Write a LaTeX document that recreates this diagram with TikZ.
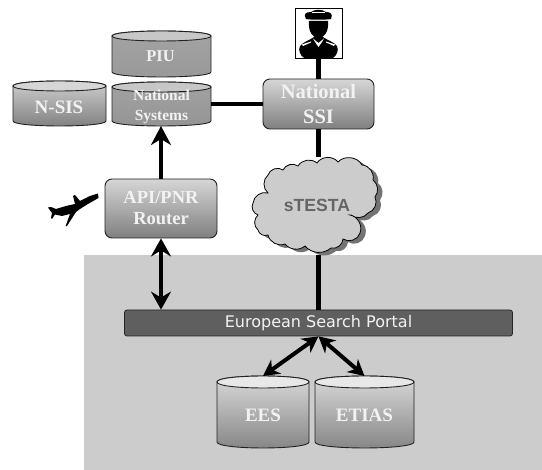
\documentclass[tikz,border=0pt]{standalone}
\usepackage{fontspec}
\setmainfont{Liberation Serif}
\newfontfamily\portalfont{DejaVu Sans}
\newfontfamily\cloudfont{Liberation Sans}
\usetikzlibrary{arrows.meta}
\definecolor{bggray}{HTML}{CCCCCC}
\definecolor{barGray}{HTML}{5F5F5F}
\definecolor{edgeGray}{HTML}{222222}
\definecolor{txtWhite}{HTML}{F2F2F2}
\tikzset{
  conn/.style={line width=4.4pt,black},
  bigtip/.style={-{Stealth[length=19pt,width=20pt,inset=6pt]},line width=4.2pt},
  dbltip/.style={{Stealth[length=18pt,width=20pt,inset=6pt]}-{Stealth[length=18pt,width=20pt,inset=6pt]},line width=3.6pt},
  smalltip/.style={{Stealth[length=16pt,width=17pt,inset=5pt]}-{Stealth[length=16pt,width=17pt,inset=5pt]},line width=4pt},
  boxnode/.style={draw=edgeGray,line width=.9pt,rounded corners=7pt,top color=black!16,bottom color=black!50,inner sep=0pt,align=center,text=txtWhite},
  cyledge/.style={draw=edgeGray,line width=.9pt},
  cyltext/.style={inner sep=0pt,align=center,text=txtWhite,font=\fontsize{19}{22}\selectfont\bfseries},
  anchorbox/.style={inner sep=0pt,outer sep=0pt},
  cloudline/.style={draw=black,line width=.8pt,fill=bggray},
}
% name, x1, ytop, x2, ybot, e, top colour, bottom colour, lid colour
\newcommand{\cylbody}[9]{%
  \pgfmathsetmacro{\cxm}{(#2+#4)/2}\pgfmathsetmacro{\cym}{(#3+#5)/2}%
  \pgfmathsetmacro{\cw}{#4-#2}\pgfmathsetmacro{\ch}{#5-#3}%
  \pgfmathsetmacro{\ctop}{#3+#6}\pgfmathsetmacro{\cbot}{#5-#6}%
  \pgfmathsetmacro{\cbc}{#5-#6+1.33*#6}\pgfmathsetmacro{\ctc}{#3+#6-1.33*#6}\pgfmathsetmacro{\cuc}{#3+#6+1.33*#6}%
  \path[cyledge,top color=#7,bottom color=#8] (#2,\ctop) -- (#2,\cbot) .. controls (#2,\cbc) and (#4,\cbc) .. (#4,\cbot) -- (#4,\ctop) .. controls (#4,\ctc) and (#2,\ctc) .. (#2,\ctop) -- cycle;
  \path[cyledge,fill=#9] (#2,\ctop) .. controls (#2,\ctc) and (#4,\ctc) .. (#4,\ctop) .. controls (#4,\cuc) and (#2,\cuc) .. (#2,\ctop) -- cycle;
  \node[anchorbox,minimum width=\cw pt,minimum height=\ch pt] (#1) at (\cxm,\cym) {};
}
\begin{document}
\begin{tikzpicture}[x=1pt,y=-1pt]
\useasboundingbox (0,0) rectangle (542,470);
\fill[white] (0,0) rectangle (542,470);
\fill[bggray] (84,255) rectangle (542,470);

% databases
\cylbody{piu}{112}{31}{211}{77}{5}{black!36}{black!40}{black!22}
\cylbody{nsis}{13}{81}{106}{126}{5}{black!18}{black!50}{black!16}
\cylbody{natsys}{112}{82}{211}{126}{5}{black!36}{black!42}{black!22}
\cylbody{ees}{217}{376}{309}{448}{6}{black!14}{black!48}{black!9}
\cylbody{etias}{315}{376}{414}{448}{6}{black!14}{black!48}{black!9}
\node[cyltext,font=\fontsize{16.5}{20}\selectfont\bfseries] (piut) at (160.5,56) {PIU};
\node[cyltext] (nsist) at (59,107) {N-SIS};
\node[cyltext,font=\fontsize{15.5}{20}\selectfont\bfseries] (natsyst) at (161.5,106.5) {National\\Systems};
\node[cyltext] (eest) at (263,415) {EES};
\node[cyltext] (etiast) at (364.5,415) {ETIAS};

% rounded boxes
\node[boxnode,minimum width=112pt,minimum height=59pt,font=\fontsize{18.5}{21}\selectfont\bfseries] (api) at (161,208.5) {API/PNR\\Router};
\node[boxnode,minimum width=111pt,minimum height=50pt,font=\fontsize{20.5}{25}\selectfont\bfseries] (ssi) at (318.5,104) {National\\SSI};

% portal
\node[draw=black!85,line width=.8pt,fill=barGray,rounded corners=2.5pt,minimum width=388pt,minimum height=26pt,inner sep=0pt,text=txtWhite,font=\portalfont\fontsize{16}{18}\selectfont] (portal) at (318.5,323) {European Search Portal};

% officer
\node[draw=black,line width=.8pt,fill=white,minimum width=47pt,minimum height=50pt,inner sep=0pt] (officer) at (318.5,33) {};
\fill[black] (306,19) .. controls (303,14) and (306,12) .. (311,12) .. controls (315,9) and (322,9) .. (326,12) .. controls (331,12) and (333,14) .. (331,19) .. controls (326,20) and (311,20) .. (306,19) -- cycle;
\fill[white] (312,12.5) rectangle (325,13.3);
\fill[black] (309,21) .. controls (308,32) and (313,38) .. (318.5,38) .. controls (324,38) and (329,32) .. (328,21) -- cycle;
\fill[black] (300,46) .. controls (303,42) and (310,40) .. (314,37) -- (323,37) .. controls (327,40) and (334,42) .. (337,46) .. controls (339,50) and (337,55) .. (333,58) -- (304,58) .. controls (300,55) and (298,50) .. (300,46) -- cycle;
\fill[white] (313,38.5) -- (318.5,43) -- (324,38.5) -- (322,42) -- (318.5,47) -- (315,42) -- cycle;
\fill[white] (302,44.5) -- (311,41.5) -- (311,42.5) -- (303,46) -- cycle;
\fill[white] (335,44.5) -- (326,41.5) -- (326,42.5) -- (334,46) -- cycle;

% plane
\fill[black] (98,193.5) -- (98.5,198) -- (88,204) -- (80,209) -- (76,212) -- (67,226) -- (65.5,226.5) -- (70,214) -- (62,216) -- (55,214.5) -- (52,219) -- (51,218) -- (52,213) -- (48,207.5) -- (51,207) -- (56,209) -- (66,206) -- (75,204) -- (73,196) -- (75,195) -- (80,201) -- (90,196) -- cycle;

% cloud
\newcommand{\cloudpath}{(268,175) to[bend left=55] (283,170) to[bend left=50] (298,166) to[bend left=50] (317,163) to[bend left=55] (338,162) to[bend left=55] (362,165) to[bend left=50] (373,180) to[bend left=45] (375,197) to[bend left=50] (368,213) to[bend left=45] (351,215) to[bend left=-45] (350,215) to[bend left=50] (360,233) to[bend left=55] (343,239) to[bend left=50] (331,248) to[bend left=45] (305,246) to[bend left=45] (285,244) to[bend left=50] (268,235) to[bend left=50] (258,230) to[bend left=50] (258,215) to[bend left=50] (253,203) to[bend left=50] (268,193) to[bend left=50] cycle}
\fill[black!55,xshift=5pt,yshift=-3pt] \cloudpath;
\path[cloudline] \cloudpath;
\node[anchorbox,minimum width=122pt,minimum height=83pt] (cloud) at (318.5,198.5) {};
\node[inner sep=0pt,text=black!60,font=\cloudfont\fontsize{17.6}{20}\selectfont\bfseries] (cloudt) at (317,205) {sTESTA};

% connectors
\draw[conn] (officer.south) -- (ssi.north);
\draw[conn] (natsys.east) -- (ssi.west);
\draw[conn] (ssi.south) -- (cloud.north);
\draw[conn] (cloud.south) ++(0,15) -- (portal.north);
\draw[bigtip] (api.north) -- (api.north |- natsys.south);
\draw[dbltip] (api.south) -- (api.south |- portal.north);
\draw[smalltip] (portal.south) -- (ees.north);
\draw[smalltip] (portal.south) -- (etias.north);
\end{tikzpicture}
\end{document}
